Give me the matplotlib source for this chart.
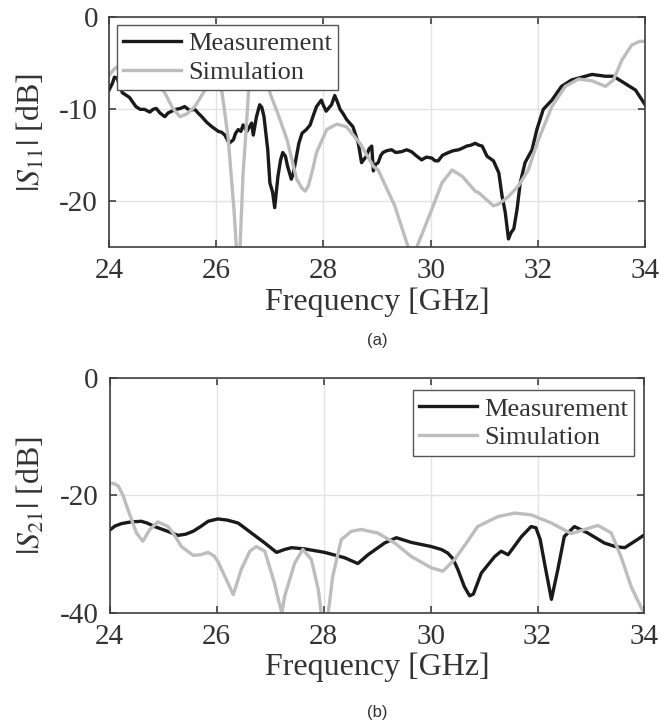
import matplotlib
matplotlib.use("Agg")
import matplotlib.pyplot as plt

# S11 - medicion (a)
f_s11_meas = [24.00, 24.06, 24.10, 24.15, 24.20, 24.25, 24.38, 24.50, 24.58, 24.66, 24.76, 24.82,
              24.88, 24.95, 25.04, 25.10, 25.17, 25.25, 25.33, 25.41, 25.50, 25.60, 25.66, 25.73,
              25.82, 25.92, 26.04, 26.10, 26.16, 26.24, 26.32, 26.36, 26.41, 26.46, 26.50, 26.57,
              26.62, 26.66, 26.69, 26.75, 26.81, 26.85, 26.89, 26.96, 27.00, 27.05, 27.09, 27.15,
              27.20, 27.24, 27.29, 27.33, 27.40, 27.44, 27.50, 27.54, 27.60, 27.68, 27.75, 27.82,
              27.87, 27.96, 28.00, 28.05, 28.15, 28.21, 28.26, 28.31, 28.37, 28.43, 28.55, 28.60,
              28.65, 28.71, 28.76, 28.80, 28.85, 28.90, 28.93, 28.97, 29.02, 29.07, 29.11, 29.18,
              29.27, 29.35, 29.46, 29.55, 29.64, 29.72, 29.83, 29.92, 30.02, 30.08, 30.14, 30.22,
              30.33, 30.42, 30.52, 30.60, 30.67, 30.75, 30.83, 30.90, 30.96, 31.05, 31.17, 31.27,
              31.33, 31.39, 31.45, 31.50, 31.55, 31.61, 31.67, 31.76, 31.89, 31.98, 32.10, 32.26,
              32.44, 32.63, 32.88, 33.01, 33.26, 33.41, 33.63, 33.82, 34.00]
s11_meas = [-7.9, -7.2, -6.5, -6.6, -7.5, -8.2, -8.7, -9.7, -10.0, -10.0, -10.3, -10.0,
            -9.9, -10.4, -10.8, -10.4, -10.2, -10.0, -9.9, -9.7, -10.1, -10.0, -10.4, -10.8,
            -11.4, -11.9, -12.4, -12.5, -12.8, -13.7, -13.3, -12.6, -12.2, -12.4, -11.7, -12.4,
            -11.9, -11.5, -12.8, -10.8, -9.5, -9.8, -10.8, -14.4, -18.0, -19.0, -20.7, -17.3,
            -15.5, -14.7, -15.1, -16.2, -17.6, -16.9, -15.0, -13.7, -12.6, -12.2, -11.7, -10.5,
            -9.7, -9.0, -9.6, -10.2, -9.5, -8.5, -9.2, -10.0, -10.5, -11.1, -11.9, -12.8,
            -13.7, -15.8, -15.4, -15.1, -14.3, -14.0, -16.7, -16.0, -15.8, -15.0, -14.7, -14.5,
            -14.4, -14.7, -14.6, -14.4, -14.6, -15.0, -15.5, -15.2, -15.3, -15.6, -15.6, -15.0,
            -14.7, -14.5, -14.4, -14.2, -14.0, -13.9, -13.7, -13.9, -14.0, -15.1, -15.6, -16.9,
            -19.4, -21.2, -24.1, -23.4, -23.0, -20.9, -18.0, -15.8, -14.4, -12.2, -10.0, -9.0,
            -7.5, -6.8, -6.4, -6.2, -6.4, -6.4, -7.2, -7.9, -9.5]

# S11 - simulacion (a)
f_s11_sim = [24.00, 24.10, 24.25, 24.45, 24.65, 24.85, 25.04, 25.18, 25.32, 25.45, 25.60, 25.79,
             25.92, 26.00, 26.06, 26.11, 26.22, 26.33, 26.38, 26.41, 26.44, 26.50, 26.57, 26.60,
             26.70, 26.80, 26.90, 27.00, 27.15, 27.32, 27.50, 27.60, 27.66, 27.72, 27.80, 27.87,
             28.06, 28.25, 28.43, 28.68, 28.93, 29.02, 29.33, 29.58, 29.66, 29.74, 30.02, 30.21,
             30.40, 30.59, 30.83, 30.90, 31.17, 31.27, 31.45, 31.64, 31.82, 32.01, 32.26, 32.51,
             32.76, 33.01, 33.26, 33.41, 33.57, 33.75, 33.90, 34.00]
s11_sim = [-6.3, -5.6, -5.0, -5.0, -5.8, -6.9, -8.2, -9.8, -10.8, -10.5, -9.7, -7.9,
           -6.4, -5.8, -6.5, -8.3, -13.0, -20.9, -25.5, -28.0, -25.5, -17.0, -11.1, -8.2,
           -5.0, -4.0, -5.0, -8.2, -10.5, -13.3, -17.6, -18.6, -18.9, -18.3, -16.5, -14.7,
           -12.2, -11.6, -11.9, -13.7, -16.2, -16.6, -20.5, -25.0, -26.5, -25.0, -20.9, -18.0,
           -16.6, -17.3, -18.9, -19.1, -20.5, -20.3, -19.5, -18.3, -16.6, -13.3, -9.7, -7.5,
           -6.7, -6.9, -7.5, -6.8, -4.6, -3.0, -2.6, -2.6]

# S21 - medicion (b)
f_s21_meas = [24.00, 24.10, 24.22, 24.40, 24.59, 24.70, 24.84, 25.05, 25.28, 25.42, 25.56, 25.70,
              25.84, 26.02, 26.20, 26.40, 26.52, 26.65, 26.90, 27.12, 27.27, 27.40, 27.64, 28.02,
              28.39, 28.64, 28.83, 29.14, 29.36, 29.64, 30.01, 30.20, 30.32, 30.42, 30.51, 30.63,
              30.73, 30.80, 30.95, 31.20, 31.32, 31.45, 31.70, 31.88, 31.97, 32.05, 32.13, 32.26,
              32.38, 32.50, 32.69, 32.94, 33.25, 33.45, 33.63, 33.87, 34.00]
s21_meas = [-25.9, -25.2, -24.8, -24.5, -24.4, -24.7, -25.3, -26.0, -26.8, -26.6, -26.1, -25.3,
            -24.4, -24.0, -24.2, -24.7, -25.5, -26.4, -28.1, -29.7, -29.2, -28.9, -29.1, -29.7,
            -30.6, -31.6, -30.1, -28.1, -27.2, -28.0, -28.7, -29.2, -29.8, -30.8, -32.6, -35.5,
            -37.1, -36.8, -33.2, -30.4, -29.5, -30.1, -27.0, -25.3, -25.5, -27.5, -31.5, -37.7,
            -32.6, -27.0, -25.3, -26.4, -28.1, -28.7, -28.9, -27.5, -26.7]

# S21 - simulacion (b)
f_s21_sim = [24.00, 24.08, 24.16, 24.25, 24.34, 24.50, 24.62, 24.75, 24.90, 25.09, 25.20, 25.34,
             25.56, 25.70, 25.84, 25.95, 26.02, 26.21, 26.31, 26.46, 26.62, 26.74, 26.90, 27.08,
             27.16, 27.22, 27.27, 27.46, 27.61, 27.77, 27.90, 27.96, 28.02, 28.08, 28.17, 28.33,
             28.52, 28.70, 29.01, 29.33, 29.64, 30.01, 30.23, 30.45, 30.67, 30.88, 31.26, 31.57,
             31.88, 32.26, 32.63, 32.88, 33.13, 33.38, 33.56, 33.75, 33.97, 34.05]
s21_sim = [-17.9, -18.0, -18.4, -20.0, -22.4, -26.4, -27.8, -25.8, -24.5, -25.3, -26.6, -28.7,
           -30.2, -30.1, -29.7, -30.3, -31.2, -34.9, -36.9, -32.6, -29.5, -28.7, -29.5, -34.9,
           -38.0, -40.0, -37.2, -31.5, -29.2, -30.9, -36.0, -40.5, -43.0, -40.5, -33.8, -27.5,
           -26.1, -25.8, -26.4, -28.1, -30.4, -32.3, -32.9, -30.9, -28.1, -25.3, -23.6, -23.0,
           -23.3, -24.7, -26.5, -25.8, -25.1, -26.4, -30.4, -35.5, -39.7, -42.0]

xticks = [24, 26, 28, 30, 32, 34]

plt.rcParams['font.family'] = ['Liberation Serif', 'DejaVu Serif']
plt.rcParams['mathtext.fontset'] = 'stix'

texto = '#333333'
negro = '#1a1a1a'
gris = '#bdbdbd'

fig = plt.figure(figsize=(6.61, 7.27), dpi=100)
ax1 = fig.add_axes([0.165, 0.660, 0.811, 0.316])
ax2 = fig.add_axes([0.166, 0.157, 0.809, 0.323])


def estilo(ax, ylim, yticks, ylabel):
    ax.set_xlim(24, 34)
    ax.set_ylim(*ylim)
    ax.set_xticks(xticks)
    ax.set_yticks(yticks)
    ax.set_yticklabels([str(v) for v in yticks])
    ax.grid(True, color='#e3e3e3', linewidth=1.0)
    ax.set_axisbelow(True)
    ax.tick_params(direction='in', top=True, right=True, length=5, width=1.2,
                   colors='#404040', labelsize=21, labelcolor=texto, pad=8)
    for s in ax.spines.values():
        s.set_color('#404040')
        s.set_linewidth(1.2)
    ax.set_xlabel('Frequency [GHz]', fontsize=23, color=texto, labelpad=2)
    ax.set_ylabel(ylabel, fontsize=23, color=texto, labelpad=9)


def leyenda(ax, loc, anchor):
    leg = ax.legend(loc=loc, bbox_to_anchor=anchor, borderaxespad=0,
                    fontsize=19, fancybox=False, framealpha=1, edgecolor='#555555',
                    handlelength=2.2, handletextpad=0.25, labelspacing=0.2, borderpad=0.25)
    leg.get_frame().set_linewidth(1.0)
    for t in leg.get_texts():
        t.set_color(texto)


ax1.plot(f_s11_meas, s11_meas, color=negro, lw=2.4, label='Measurement')
ax1.plot(f_s11_sim, s11_sim, color=gris, lw=2.4, label='Simulation')
estilo(ax1, (-25, 0), [-20, -10, 0], r'$|S_{11}|$ [dB]')
leyenda(ax1, 'upper left', (0.014, 0.967))

ax2.plot(f_s21_meas, s21_meas, color=negro, lw=2.4, label='Measurement')
ax2.plot(f_s21_sim, s21_sim, color=gris, lw=2.4, label='Simulation')
estilo(ax2, (-40, 0), [-40, -20, 0], r'$|S_{21}|$ [dB]')
leyenda(ax2, 'upper right', (0.981, 0.947))

# subtitulos
fig.text(0.571, 1 - 341 / 727, '(a)', ha='center', va='center', fontsize=12,
         family='Liberation Sans', color=texto)
fig.text(0.571, 1 - 712 / 727, '(b)', ha='center', va='center', fontsize=12,
         family='Liberation Sans', color=texto)

fig.savefig('out.png', dpi=100)
